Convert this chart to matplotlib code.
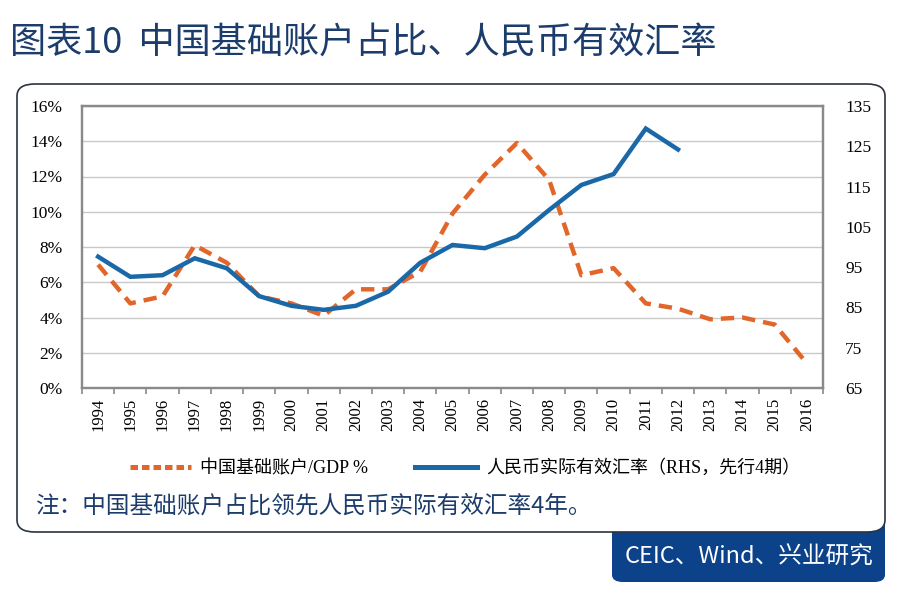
import numpy as np
import matplotlib.pyplot as plt
from matplotlib.patches import FancyBboxPatch
from matplotlib.lines import Line2D

# ==================== データ ====================
years = [str(y) for y in range(1994, 2017)]
ca_gdp = [7.0, 4.8, 5.2, 8.1, 7.1, 5.2, 4.8, 4.1, 5.6, 5.6, 6.6, 9.9,
          12.1, 13.9, 11.8, 6.4, 6.8, 4.8, 4.5, 3.9, 4.0, 3.6, 1.4]
reer = [97.6, 92.6, 93.0, 97.2, 94.7, 87.8, 85.4, 84.4, 85.4, 88.9, 96.1, 100.5,
        99.7, 102.6, 109.2, 115.4, 118.1, 129.4, 124.2, np.nan, np.nan, np.nan, np.nan]
left_ticks = [0, 2, 4, 6, 8, 10, 12, 14, 16]
right_ticks = [65, 75, 85, 95, 105, 115, 125, 135]

title = '图表10  中国基础账户占比、人民币有效汇率'
note = '注：中国基础账户占比领先人民币实际有效汇率4年。'
source = 'CEIC、Wind、兴业研究'
label_ca = '中国基础账户/GDP %'
label_reer = '人民币实际有效汇率（RHS，先行4期）'

# ==================== 描画値 ====================
W, H = 905, 600
orange = '#e2662a'
blue = '#1a68a8'
navy = '#0b428a'
title_col = '#1c3d6c'
cjk = ['Noto Sans CJK SC', 'DejaVu Sans']
serif = ['Liberation Serif', 'Noto Sans CJK SC']


def px(x0, y0, x1, y1):
    # pixel box (top-left origin) -> figure coords
    return x0 / W, 1 - y1 / H, (x1 - x0) / W, (y1 - y0) / H


def draw():
    fig = plt.figure(figsize=(W / 100, H / 100), dpi=100, facecolor='white')

    # 下の青い出典ボックスと外枠
    x, y, w, h = px(612, 512, 885, 582)
    fig.patches.append(FancyBboxPatch((x, y), w, h, boxstyle='round,pad=0,rounding_size=0.012',
                                      transform=fig.transFigure, facecolor=navy, edgecolor='none', zorder=0))
    x, y, w, h = px(17, 84, 885, 532)
    fig.patches.append(FancyBboxPatch((x, y), w, h, boxstyle='round,pad=0,rounding_size=0.02',
                                      transform=fig.transFigure, facecolor='white', edgecolor='#2b3440',
                                      linewidth=1.2, zorder=1))

    fig.text(10 / W, 1 - 44 / H, title, family=cjk, fontsize=26, fontweight='medium',
             color=title_col, va='center', ha='left')
    fig.text(35 / W, 1 - 506 / H, note, family=cjk, fontsize=17, color=title_col, va='center', ha='left')
    fig.text(749 / W, 1 - 557 / H, source, family=cjk, fontsize=17, color='white', va='center', ha='center')

    x, y, w, h = px(82, 106, 823, 388)
    ax = fig.add_axes([x, y, w, h])
    ax.set_zorder(2)
    ax2 = ax.twinx()

    xs = np.arange(len(years))
    ax.plot(xs, ca_gdp, color=orange, lw=3.2, dashes=(3, 1.8), dash_capstyle='butt', zorder=3)
    ax2.plot(xs, reer, color=blue, lw=3.2, solid_joinstyle='miter', zorder=3)

    ax.set_xlim(-0.5, len(years) - 0.5)
    ax.set_ylim(0, 16)
    ax2.set_ylim(65, 135)
    ax.set_yticks(left_ticks)
    ax.set_yticklabels([f'{v}%' for v in left_ticks])
    ax2.set_yticks(right_ticks)
    ax.set_xticks(xs)
    ax.set_xticklabels(years, rotation=90)
    ax.set_xticks(np.arange(-0.5, len(years)), minor=True)

    ax.grid(axis='y', color='#c9c9c9', lw=1.0)
    ax.set_axisbelow(True)
    for a in (ax, ax2):
        for s in a.spines.values():
            s.set_color('#8a8a8a')
            s.set_linewidth(1.6)
        for lab in a.get_yticklabels():
            lab.set_family(serif)
            lab.set_fontsize(12.5)
    for lab in ax.get_xticklabels():
        lab.set_family(serif)
        lab.set_fontsize(12)
    ax.tick_params(axis='y', length=0, pad=14)
    ax2.tick_params(axis='y', length=0, pad=16)
    ax.tick_params(axis='x', which='major', length=0, pad=7)
    ax.tick_params(axis='x', which='minor', length=4, color='#8a8a8a', width=1.2)

    handles = [Line2D([], [], color=orange, lw=3.6, dashes=(1.5, 0.8)),
               Line2D([], [], color=blue, lw=3.6)]
    fig.legend(handles, [label_ca, label_reer], loc='center', bbox_to_anchor=(465 / W, 1 - 468 / H),
               ncol=2, frameon=False, handlelength=3.4, handletextpad=0.5, columnspacing=2.6,
               prop={'family': serif, 'size': 13})

    plt.savefig('out.png', dpi=100, facecolor='white')


def main():
    draw()


if __name__ == '__main__':
    main()
